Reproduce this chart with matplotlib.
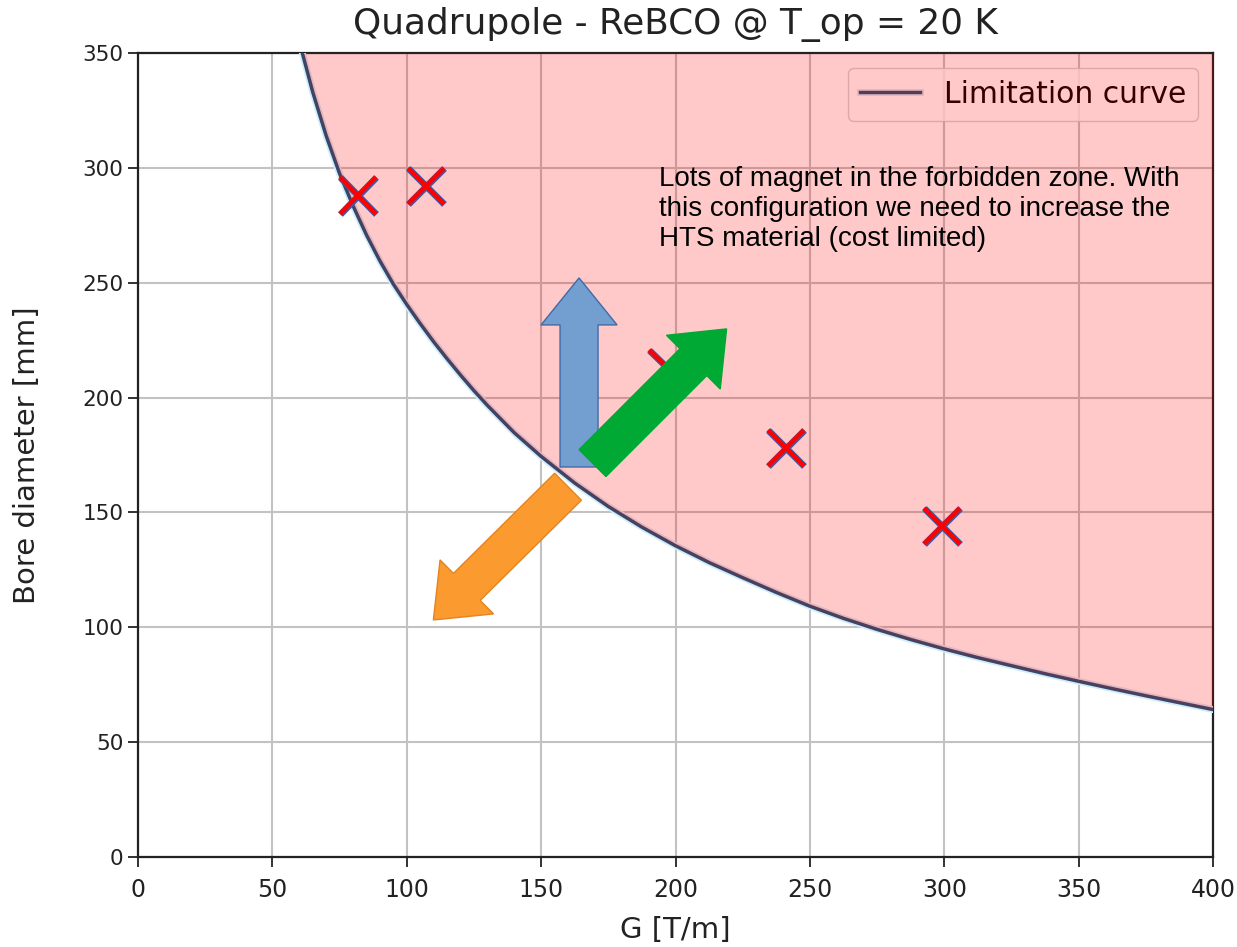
import matplotlib
matplotlib.use("Agg")
import matplotlib.pyplot as plt
import matplotlib.patheffects as pe
from matplotlib.patches import FancyArrow
from matplotlib.transforms import IdentityTransform

# limitation curve (G in T/m, bore in mm)
G_curve = [60, 65, 70, 75, 80, 85, 90, 95, 100, 105, 110, 115, 120, 125, 130,
           140, 150, 162.5, 175, 187.5, 200, 212.5, 225, 237.5, 250, 262.5,
           275, 287.5, 300, 312.5, 325, 337.5, 350, 362.5, 375, 387.5, 400]
D_curve = [355, 333, 314, 297.5, 283.5, 270.8, 259.5, 249.4, 240.5, 232.2,
           224.3, 216.9, 209.8, 203, 196.6, 184.7, 174.4, 162.8, 152.6, 143.6,
           135.5, 128.2, 121.6, 115.2, 109.2, 103.9, 99.1, 94.7, 90.6, 86.8,
           83.3, 79.8, 76.5, 73.3, 70.2, 67.2, 64.2]

# magnets placed on the plot
G_mag = [82, 107, 197, 241, 299]
D_mag = [288, 292, 213, 178, 144]

x_ticks = [0, 50, 100, 150, 200, 250, 300, 350, 400]
y_ticks = [0, 50, 100, 150, 200, 250, 300, 350]

note = ("Lots of magnet in the forbidden zone. With\n"
        "this configuration we need to increase the\n"
        "HTS material (cost limited)")

# block arrows: (tail, tip) in data units, colour, edge
arrows = [
    ((160.0, 161.2), (109.9, 103.2), "#fb9a2e", "#e38420"),
    ((164.1, 169.8), (164.1, 252.1), "#729fcf", "#3f6aa8"),
    ((169.1, 171.5), (219.0, 229.9), "#00a933", "#00a933"),
]

fig = plt.figure(figsize=(12.37, 9.47), dpi=100)
ax = fig.add_axes([0.1116, 0.095, 0.869, 0.849])

ax.plot(G_curve, D_curve, color="#2f4a6e", lw=2.5, zorder=4,
        label="Limitation curve",
        path_effects=[pe.Stroke(linewidth=5, foreground="#d3ebf7"), pe.Normal()])
ax.set_xlim(0, 400)
ax.set_ylim(0, 350)
ax.set_xticks(x_ticks)
ax.set_yticks(y_ticks)
ax.grid(True, color="#c2c2c2", lw=1.5)
ax.tick_params(axis="x", labelsize=17, length=7, width=1.3, pad=8, colors="#222222")
ax.tick_params(axis="y", labelsize=15.5, length=7, width=1.3, colors="#222222")
for s in ax.spines.values():
    s.set_linewidth(1.6)
    s.set_color("#222222")

ax.set_title("Quadrupole - ReBCO @ T_op = 20 K", fontsize=25.8, pad=14, color="#222222")
ax.set_xlabel("G [T/m]", fontsize=21, labelpad=10, color="#222222")
ax.set_ylabel("Bore diameter [mm]", fontsize=21, labelpad=30, color="#222222")

ax.legend(loc="upper right", fontsize=21.5, framealpha=0.8)

# forbidden zone, laid over everything below it (legend included)
ax.fill_between(G_curve, D_curve, 350, color="red", alpha=0.21, lw=0, zorder=6)

ax.plot(G_mag, D_mag, ls="none", marker="x", ms=26, mew=3.2, color="red", zorder=7,
        path_effects=[pe.Stroke(linewidth=4.8, foreground="#3b5bab"), pe.Normal()])

ax.text(194, 301, note, family="Liberation Sans", fontsize=20, va="top",
        ha="left", linespacing=1.2, zorder=8)

# arrows drawn in pixel space so the heads keep their shape
for i, (tail, tip, fc, ec) in enumerate(arrows):
    x0, y0 = ax.transData.transform(tail)
    x1, y1 = ax.transData.transform(tip)
    arr = FancyArrow(x0, y0, x1 - x0, y1 - y0, width=38, head_width=76,
                     head_length=47, length_includes_head=True,
                     transform=IdentityTransform(), fc=fc, ec=ec, lw=1,
                     zorder=10 + i)
    fig.add_artist(arr)

fig.savefig("out.png", dpi=100)
